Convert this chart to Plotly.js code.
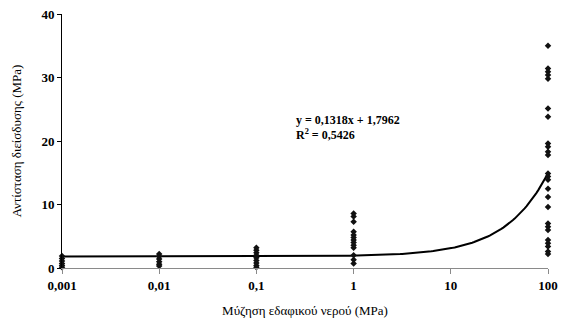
<!DOCTYPE html>
<html><head><meta charset="utf-8">
<script src="https://cdn.plot.ly/plotly-3.0.1.min.js"></script>
<style>html,body{margin:0;padding:0;background:#fff}#c{width:564px;height:326px}</style>
</head><body><div id="c"></div>
<script>
const xLevels = [0.001, 0.01, 0.1, 1, 100];
const yAt0001 = [1.9, 1.5, 1.1, 0.7, 0.4, 0.1];
const yAt001 = [2.2, 1.8, 1.4, 1.0, 0.6, 0.3];
const yAt01 = [3.2, 2.8, 2.4, 2.0, 1.6, 1.2, 0.8, 0.4, 0.1];
const yAt1 = [8.6, 8.1, 7.3, 5.7, 5.2, 4.8, 4.4, 4.0, 3.6, 3.2, 2.0, 1.3, 0.7];
const yAt100 = [35.0, 31.4, 30.9, 30.4, 29.8, 25.1, 23.8, 19.6, 19.1, 18.3, 17.8, 14.9, 14.4, 13.9, 12.5, 11.2, 9.6, 7.0, 6.5, 6.0, 4.4, 3.9, 3.4, 2.6, 2.2];
const slope = 0.1318, intercept = 1.7962;
const tickVals = [0.001, 0.01, 0.1, 1, 10, 100];
const tickText = ["0,001", "0,01", "0,1", "1", "10", "100"];

const groups = [yAt0001, yAt001, yAt01, yAt1, yAt100];
const px = [], py = [];
groups.forEach((g, i) => g.forEach(v => { px.push(xLevels[i]); py.push(v); }));

const tx = [], ty = [];
for (let e = -3; e <= 2.0001; e += 0.02) { const x = Math.pow(10, e); tx.push(x); ty.push(slope * x + intercept); }

const serif = "Liberation Serif";
Plotly.newPlot('c', [
  {x: tx, y: ty, mode: 'lines', line: {color: '#000', width: 2}, hoverinfo: 'skip', cliponaxis: false},
  {x: px, y: py, mode: 'markers', marker: {symbol: 'diamond', size: 5, color: '#111'}, cliponaxis: false}
], {
  width: 564, height: 326, showlegend: false,
  margin: {l: 62, r: 16, t: 14, b: 58},
  paper_bgcolor: '#fff', plot_bgcolor: '#fff',
  font: {family: serif, color: '#000'},
  xaxis: {type: 'log', range: [-3, 2], tickvals: tickVals, ticktext: tickText,
    showgrid: false, zeroline: false, showline: true, linecolor: '#8a8a8a', linewidth: 1,
    ticks: 'outside', ticklen: 5, tickcolor: '#8a8a8a',
    tickfont: {family: serif, size: 13, weight: 'bold'},
    title: {text: 'Μύζηση εδαφικού νερού (MPa)', font: {family: serif, size: 13}, standoff: 14}},
  yaxis: {range: [0, 40], tickvals: [0, 10, 20, 30, 40],
    showgrid: false, zeroline: false, showline: true, linecolor: '#000', linewidth: 1,
    ticks: 'outside', ticklen: 4, tickcolor: '#000',
    tickfont: {family: serif, size: 13, weight: 'bold'},
    title: {text: 'Αντίσταση διείσδυσης (MPa)', font: {family: serif, size: 13}, standoff: 16}},
  annotations: [
    {xref: 'paper', yref: 'paper', x: 0.477, y: 0.583, xanchor: 'left', yanchor: 'middle', showarrow: false,
     text: 'y = 0,1318x + 1,7962', font: {family: serif, size: 12, weight: 'bold'}},
    {xref: 'paper', yref: 'paper', x: 0.477, y: 0.524, xanchor: 'left', yanchor: 'middle', showarrow: false,
     text: 'R<sup>2</sup> = 0,5426', font: {family: serif, size: 12, weight: 'bold'}}
  ]
}, {displayModeBar: false, staticPlot: true});
</script></body></html>
